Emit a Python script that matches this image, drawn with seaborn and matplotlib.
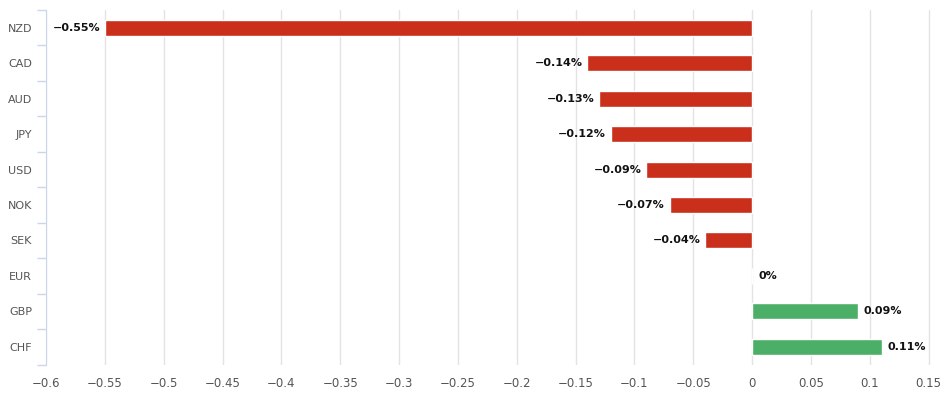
import numpy as np
import pandas as pd
import matplotlib
matplotlib.use('Agg')
import matplotlib.pyplot as plt
import seaborn as sns
from matplotlib.ticker import FixedLocator

# Data
currencies = ['NZD', 'CAD', 'AUD', 'JPY', 'USD', 'NOK', 'SEK', 'EUR', 'GBP', 'CHF']
changes = [-0.55, -0.14, -0.13, -0.12, -0.09, -0.07, -0.04, 0.0, 0.09, 0.11]
x_ticks = [-0.6, -0.55, -0.5, -0.45, -0.4, -0.35, -0.3, -0.25, -0.2, -0.15,
           -0.1, -0.05, 0, 0.05, 0.1, 0.15]

df = pd.DataFrame({'currency': currencies, 'change': changes})
df['sign'] = np.where(df['change'] < 0, 'neg', 'pos')

sns.set_style('white')
plt.rcParams['font.family'] = ['DejaVu Sans']

fig = plt.figure(figsize=(9.4, 3.94), dpi=100)
ax = fig.add_axes([46 / 940, 29.5 / 394, 885 / 940, 354.5 / 394])

sns.barplot(data=df, x='change', y='currency', hue='sign', orient='h',
            palette={'neg': '#c92f1a', 'pos': '#4caf67'}, dodge=False,
            saturation=1, width=0.45, legend=False, ax=ax, zorder=3)

ax.set_xlim(-0.6, 0.152)
ax.set_ylim(len(currencies) - 0.5, -0.5)
ax.set_xticks(x_ticks)
ax.set_xticklabels([('%g' % t).replace('-', '\u2212') for t in x_ticks],
                   fontsize=8.5, color='#555555')
ax.xaxis.grid(True, color='#e3e3e3', linewidth=1, zorder=0)
ax.tick_params(axis='x', length=0, pad=9)

ax.set_yticks(range(len(currencies)))
ax.set_yticklabels(currencies, fontsize=8, color='#555555')
ax.tick_params(axis='y', which='major', left=True, length=0, pad=10)
ax.yaxis.set_minor_locator(FixedLocator(np.arange(-0.5, len(currencies), 1)))
ax.tick_params(axis='y', which='minor', left=True, length=6.5, width=1,
               color='#ccd6eb')

for side in ['top', 'right', 'bottom']:
    ax.spines[side].set_visible(False)
ax.spines['left'].set_color('#ccd6eb')
ax.spines['left'].set_zorder(4)
ax.set_xlabel('')
ax.set_ylabel('')

for i, v in enumerate(changes):
    label = ('%g%%' % v).replace('-', '\u2212')
    if v < 0:
        ax.text(v - 0.004, i, label, ha='right', va='center',
                fontsize=8, fontweight='bold', color='#111111')
    else:
        ax.text(v + 0.005, i, label, ha='left', va='center',
                fontsize=8, fontweight='bold', color='#111111')

fig.savefig('out.png', dpi=100)
